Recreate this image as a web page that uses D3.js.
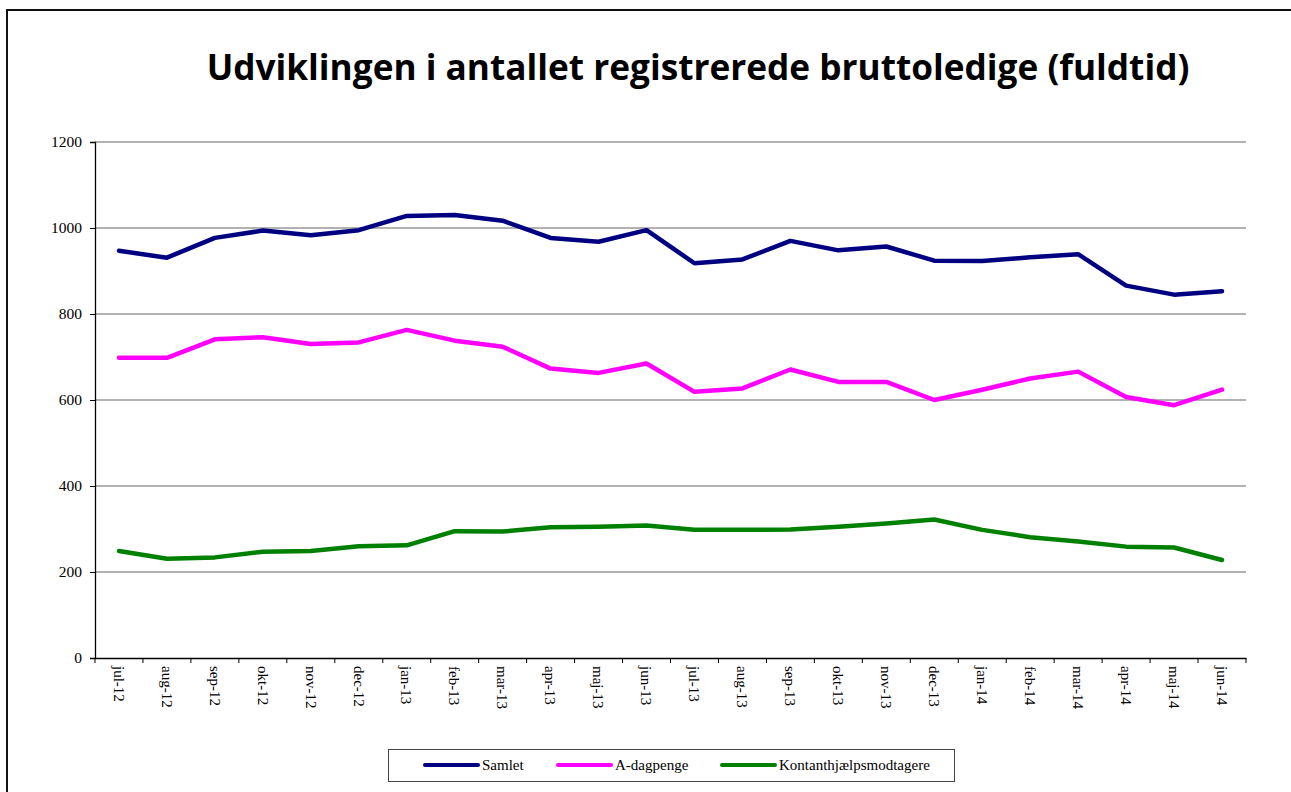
<!DOCTYPE html>
<html>
<head>
<meta charset="utf-8">
<script src="https://cdn.jsdelivr.net/npm/d3@7"></script>
<style>
  body { margin: 0; background: #fff; }
  svg { display: block; }
</style>
</head>
<body>
<div id="chart"></div>
<script>
// months shown on the x axis
var months = ["jul-12","aug-12","sep-12","okt-12","nov-12","dec-12","jan-13","feb-13","mar-13","apr-13","maj-13","jun-13",
              "jul-13","aug-13","sep-13","okt-13","nov-13","dec-13","jan-14","feb-14","mar-14","apr-14","maj-14","jun-14"];

var samlet = [947, 931, 977, 994, 983, 995, 1028, 1030, 1017, 977, 968, 995,
              918, 927, 970, 948, 957, 924, 923, 932, 939, 866, 845, 853];

var aDagpenge = [698, 698, 741, 746, 730, 734, 763, 738, 724, 673, 663, 685,
                 619, 627, 671, 642, 642, 600, 624, 650, 666, 607, 588, 624];

var kontant = [249, 231, 234, 247, 249, 260, 262, 295, 294, 304, 305, 308,
               298, 298, 299, 305, 313, 322, 298, 281, 271, 259, 257, 228];

var yTicks = [0, 200, 400, 600, 800, 1000, 1200];

var seriesNames = ["Samlet", "A-dagpenge", "Kontanthjælpsmodtagere"];
var seriesColors = ["#000080", "#ff00ff", "#008000"];
var seriesData = [samlet, aDagpenge, kontant];

var W = 1291, H = 792;
var margin = {top: 142, left: 95, right: 45, bottom: 134};
var width = W - margin.left - margin.right,
    height = H - margin.top - margin.bottom;

var serif = "'Liberation Serif', 'Times New Roman', serif";

var svg = d3.select("#chart").append("svg")
    .attr("width", W)
    .attr("height", H);

// outer chart frame (runs off the right and bottom edge)
svg.append("rect")
    .attr("x", 7).attr("y", 10)
    .attr("width", 1300).attr("height", 800)
    .attr("fill", "white")
    .attr("stroke", "#111")
    .attr("stroke-width", 2);

var title = svg.append("text")
    .attr("x", 698).attr("y", 80)
    .attr("text-anchor", "middle")
    .style("font-family", "'Open Sans', 'Noto Sans', sans-serif")
    .style("font-weight", "bold")
    .style("font-size", "36px")
    .text("Udviklingen i antallet registrerede bruttoledige (fuldtid)");
// squeeze/stretch to the width seen in the picture
var tw = title.node().getComputedTextLength();
title.style("font-size", (36 * 983 / tw) + "px");

var g = svg.append("g").attr("transform", "translate(" + margin.left + "," + margin.top + ")");

var x = d3.scaleBand().domain(months).range([0, width]);
var y = d3.scaleLinear().domain([0, 1200]).range([height, 0]);

// gridlines
g.selectAll(".grid").data(yTicks.filter(function(d){ return d > 0; }))
  .enter().append("line")
    .attr("x1", 0).attr("x2", width)
    .attr("y1", function(d){ return y(d); })
    .attr("y2", function(d){ return y(d); })
    .attr("stroke", "#999")
    .attr("stroke-width", 1.3);

// y axis
var yAxis = g.append("g")
    .call(d3.axisLeft(y).tickValues(yTicks).tickSize(5).tickPadding(8).tickFormat(d3.format("d")));
yAxis.select(".domain").attr("stroke", "#000").attr("stroke-width", 1.3);
yAxis.selectAll(".tick line").attr("stroke", "#000");
yAxis.selectAll("text")
    .style("font-family", serif)
    .style("font-size", "15.5px")
    .attr("fill", "#000");

// x axis: ticks between categories, labels rotated
var xAxis = g.append("g")
    .attr("transform", "translate(0," + height + ")")
    .call(d3.axisBottom(x).tickSize(0).tickSizeOuter(0));
xAxis.select(".domain").attr("stroke", "#000").attr("stroke-width", 1.3);
xAxis.selectAll(".tick text")
    .style("font-family", serif)
    .style("font-size", "15px")
    .attr("fill", "#000")
    .attr("transform", "rotate(90)")
    .attr("x", 8).attr("y", 0).attr("dy", "0.35em")
    .style("text-anchor", "start");

var boundaries = months.map(function(m){ return x(m); }).concat([width]);
xAxis.selectAll(".sep").data(boundaries).enter().append("line")
    .attr("x1", function(d){ return d; }).attr("x2", function(d){ return d; })
    .attr("y1", 0).attr("y2", 5)
    .attr("stroke", "#000");

var line = d3.line()
    .x(function(d, i){ return x(months[i]) + x.bandwidth() / 2; })
    .y(function(d){ return y(d); });

seriesData.forEach(function(s, k) {
    g.append("path")
        .datum(s)
        .attr("d", line)
        .attr("fill", "none")
        .attr("stroke", seriesColors[k])
        .attr("stroke-width", 4.5)
        .attr("stroke-linejoin", "round")
        .attr("stroke-linecap", "round");
});

// legend
var legend = svg.append("g");
legend.append("rect")
    .attr("x", 388.5).attr("y", 749.5)
    .attr("width", 566).attr("height", 32)
    .attr("fill", "white").attr("stroke", "#444");
var legX = [425, 558, 722];
seriesNames.forEach(function(n, k) {
    legend.append("line")
        .attr("x1", legX[k]).attr("x2", legX[k] + 53)
        .attr("y1", 765).attr("y2", 765)
        .attr("stroke", seriesColors[k]).attr("stroke-width", 4)
        .attr("stroke-linecap", "round");
    legend.append("text")
        .attr("x", legX[k] + 57).attr("y", 765).attr("dy", "0.35em")
        .style("font-family", serif)
        .style("font-size", "15px")
        .text(n);
});
</script>
</body>
</html>
